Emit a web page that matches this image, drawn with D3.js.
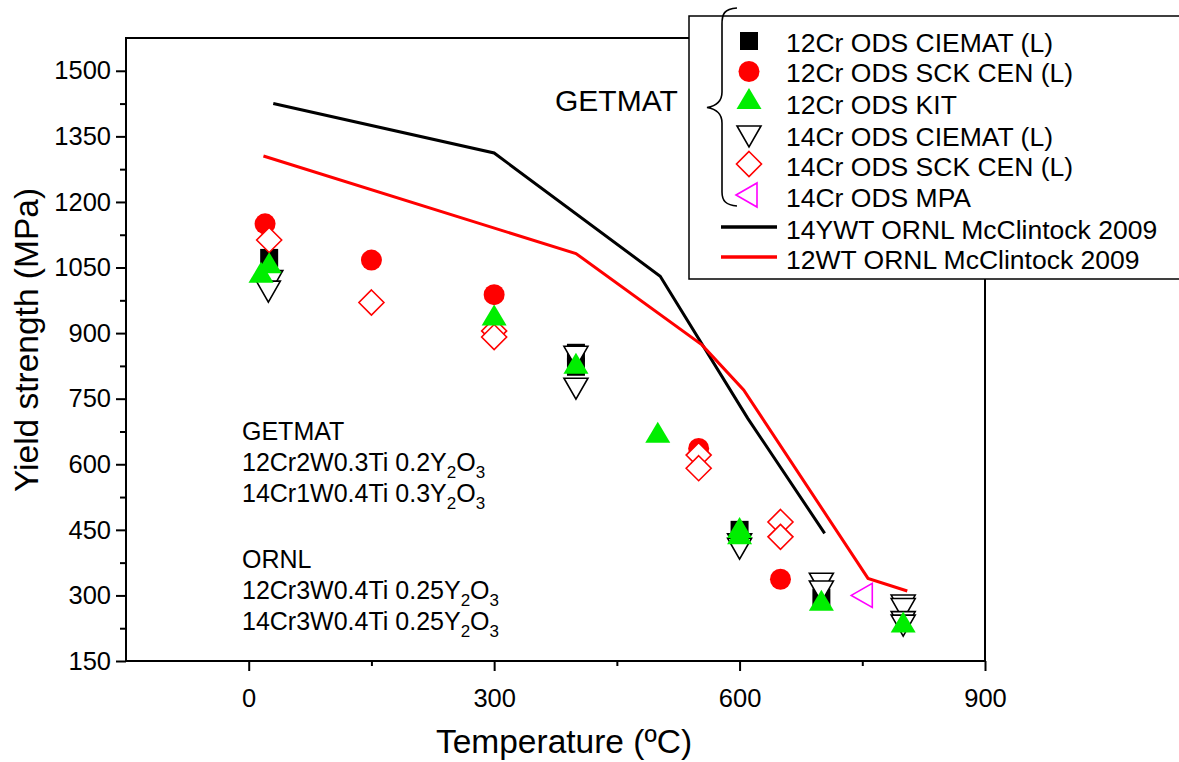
<!DOCTYPE html>
<html>
<head>
<meta charset="utf-8">
<script src="https://cdn.jsdelivr.net/npm/d3@7"></script>
<style>
  body { margin: 0; background: #fff; }
  svg { display: block; }
  text { font-family: "Liberation Sans", Arial, sans-serif; }
</style>
</head>
<body>
<svg id="chart" width="1179" height="762"></svg>
<script>
// data: [temperature (C), yield strength (MPa)]
var ciemat12 = [[25, 1072], [400, 855], [400, 823], [600, 450], [700, 295]];
var sckcen12 = [[20, 1150], [150, 1067], [300, 988], [550, 636], [650, 337]];
var kit12 = [[25, 1060], [15, 1038], [300, 940], [400, 830], [500, 672], [600, 454], [600, 440], [700, 288], [800, 238]];
var ciemat14 = [[27, 1020], [24, 996], [400, 847], [400, 774], [600, 418], [600, 408], [700, 328], [700, 310], [800, 278], [800, 270], [800, 240], [800, 232]];
var sckcen14 = [[25, 1113], [150, 970], [300, 905], [300, 891], [550, 621], [550, 591], [650, 468], [650, 434]];
var mpa14 = [[750, 300]];
var ornl14ywt = [[30, 1425], [300, 1312], [503, 1030], [610, 705], [704, 442]];
var ornl12wt = [[18, 1305], [400, 1082], [554, 873], [605, 770], [757, 339], [805, 310]];

var xMajor = [0, 300, 600, 900];
var xMinor = [150, 450, 750];
var yMajor = [150, 300, 450, 600, 750, 900, 1050, 1200, 1350, 1500];
var yMinor = [225, 375, 525, 675, 825, 975, 1125, 1275, 1425];

var legendNames = ["12Cr ODS CIEMAT (L)", "12Cr ODS SCK CEN (L)", "12Cr ODS KIT",
  "14Cr ODS CIEMAT (L)", "14Cr ODS SCK CEN (L)", "14Cr ODS MPA",
  "14YWT ORNL McClintock 2009", "12WT ORNL McClintock 2009"];

window.onload = function() {
  var svg = d3.select("#chart");
  var margin = {top: 38, right: 194, bottom: 101, left: 126},
      width = 1179 - margin.left - margin.right,
      height = 762 - margin.top - margin.bottom;

  var x = d3.scaleLinear().domain([-150, 900]).range([0, width]),
      y = d3.scaleLinear().domain([150, 1575]).range([height, 0]);

  var g = svg.append("g").attr("transform", "translate(" + margin.left + "," + margin.top + ")");

  // marker shapes, centred on 0,0
  function shape(type) {
    switch (type) {
      case "square": return "M-9,-9H9V9H-9Z";
      case "circle": return "M-10.5,0A10.5,10.5 0 1,0 10.5,0A10.5,10.5 0 1,0 -10.5,0Z";
      case "up": return "M0,-11L12.5,10H-12.5Z";
      case "down": return "M-12,-10H12L0,11Z";
      case "diamond": return "M0,-12.5L12.5,0L0,12.5L-12.5,0Z";
      case "left": return "M-11,0L10,-12V12Z";
    }
  }
  var styles = {
    square: {fill: "#000", stroke: "none", sw: 0},
    circle: {fill: "#ff0000", stroke: "none", sw: 0},
    up: {fill: "#00ee00", stroke: "none", sw: 0},
    down: {fill: "#fff", stroke: "#000", sw: 1.6},
    diamond: {fill: "#fff", stroke: "#ff0000", sw: 1.6},
    left: {fill: "none", stroke: "#ff00ff", sw: 1.6}
  };

  // curves first
  var line = d3.line()
    .x(function(d) { return x(d[0]); })
    .y(function(d) { return y(d[1]); });
  g.append("path").datum(ornl14ywt).attr("d", line)
    .attr("fill", "none").attr("stroke", "#000").attr("stroke-width", 3);
  g.append("path").datum(ornl12wt).attr("d", line)
    .attr("fill", "none").attr("stroke", "#ff0000").attr("stroke-width", 3);

  // scatter series, in drawing order
  var series = [
    {data: ciemat12, type: "square"},
    {data: sckcen12, type: "circle"},
    {data: sckcen14, type: "diamond"},
    {data: ciemat14, type: "down"},
    {data: kit12, type: "up"},
    {data: mpa14, type: "left"}
  ];
  series.forEach(function(s) {
    var st = styles[s.type];
    g.selectAll(null).data(s.data).enter().append("path")
      .attr("d", shape(s.type))
      .attr("transform", function(d) { return "translate(" + x(d[0]) + "," + y(d[1]) + ")"; })
      .attr("fill", st.fill)
      .attr("stroke", st.stroke)
      .attr("stroke-width", st.sw);
  });

  // axes
  g.append("g").attr("transform", "translate(0," + height + ")")
    .call(d3.axisBottom(x).tickValues(xMajor).tickSize(10).tickPadding(18).tickFormat(d3.format("d")));
  g.append("g").attr("transform", "translate(0," + height + ")")
    .call(d3.axisBottom(x).tickValues(xMinor).tickSize(5).tickFormat(""));
  g.append("g")
    .call(d3.axisLeft(y).tickValues(yMajor).tickSize(10).tickPadding(5).tickFormat(d3.format("d")));
  g.append("g")
    .call(d3.axisLeft(y).tickValues(yMinor).tickSize(6).tickFormat(""));
  g.selectAll(".domain").remove();
  g.selectAll(".tick line").attr("stroke", "#000").attr("stroke-width", 2);
  g.selectAll(".tick text").attr("fill", "#000")
    .style("font-family", "'Liberation Sans', Arial, sans-serif").style("font-size", "25.5px");

  // frame
  g.append("rect").attr("x", 0).attr("y", 0).attr("width", width).attr("height", height)
    .attr("fill", "none").attr("stroke", "#000").attr("stroke-width", 2);

  // axis titles
  svg.append("text").attr("x", 564).attr("y", 753).attr("text-anchor", "middle")
    .style("font-size", "33.5px").text("Temperature (\u00baC)");
  svg.append("text").attr("transform", "translate(38,340) rotate(-90)").attr("text-anchor", "middle")
    .style("font-size", "33.5px").text("Yield strength (MPa)");

  // composition note
  var note = svg.append("g").style("font-family", "'DejaVu Sans', Verdana, sans-serif").style("font-size", "25px");
  function formula(yPos, pre, sub1, mid, sub2) {
    var t = note.append("text").attr("x", 242).attr("y", yPos);
    t.append("tspan").text(pre);
    if (sub1) {
      t.append("tspan").attr("dy", 7).style("font-size", "17px").text(sub1);
      t.append("tspan").attr("dy", -7).text(mid);
      t.append("tspan").attr("dy", 7).style("font-size", "17px").text(sub2);
    }
  }
  formula(440, "GETMAT");
  formula(471, "12Cr2W0.3Ti 0.2Y", "2", "O", "3");
  formula(502, "14Cr1W0.4Ti 0.3Y", "2", "O", "3");
  formula(568, "ORNL");
  formula(599, "12Cr3W0.4Ti 0.25Y", "2", "O", "3");
  formula(630, "14Cr3W0.4Ti 0.25Y", "2", "O", "3");

  svg.append("text").attr("x", 555).attr("y", 111).style("font-size", "30px").text("GETMAT");

  // legend
  var leg = svg.append("g");
  leg.append("rect").attr("x", 689).attr("y", 16).attr("width", 600).attr("height", 263)
    .attr("fill", "#fff").attr("stroke", "#000").attr("stroke-width", 1.5);
  var legMarkY = [41, 71.5, 99, 136, 164, 195];
  var legTypes = ["square", "circle", "up", "down", "diamond", "left"];
  legTypes.forEach(function(t, i) {
    var st = styles[t];
    leg.append("path").attr("d", shape(t))
      .attr("transform", "translate(" + (t === "left" ? 747 : 749) + "," + legMarkY[i] + ")")
      .attr("fill", st.fill).attr("stroke", st.stroke).attr("stroke-width", st.sw);
  });
  leg.append("line").attr("x1", 721).attr("x2", 777).attr("y1", 227).attr("y2", 227)
    .attr("stroke", "#000").attr("stroke-width", 3.5);
  leg.append("line").attr("x1", 721).attr("x2", 777).attr("y1", 257).attr("y2", 257)
    .attr("stroke", "#ff0000").attr("stroke-width", 3.5);
  var legTextY = [52, 82, 114, 146, 176, 207, 239, 269];
  legendNames.forEach(function(n, i) {
    leg.append("text").attr("x", 786).attr("y", legTextY[i]).style("font-size", "26.5px").text(n);
  });
  // brace grouping the GETMAT entries
  leg.append("path")
    .attr("d", "M737,8 C724,9 722,14 722,24 L722,92 C722,102 716,106 707,107.5 C716,109 722,113 722,123 L722,192 C722,201 726,205 737,206")
    .attr("fill", "none").attr("stroke", "#000").attr("stroke-width", 1.6);
};
</script>
</body>
</html>
